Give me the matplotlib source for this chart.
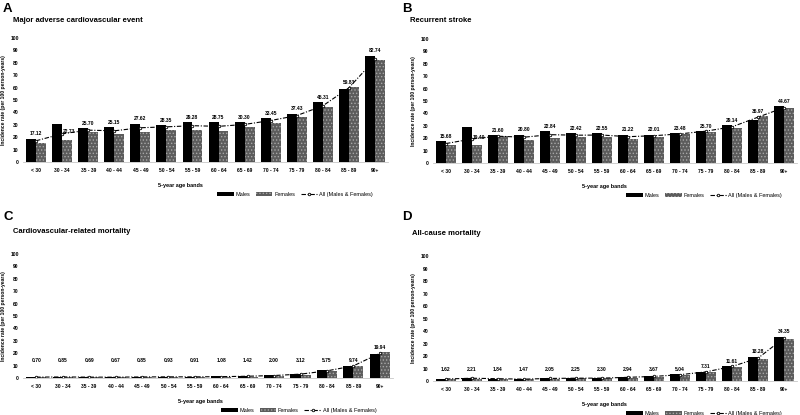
import matplotlib
matplotlib.use('Agg')
import matplotlib.pyplot as plt
from matplotlib.patches import Patch
from matplotlib.lines import Line2D
import numpy as np

plt.rcParams['font.family'] = ['Liberation Sans', 'DejaVu Sans']
plt.rcParams['hatch.linewidth'] = 0.6

ages = ['< 30', '30 - 34', '35 - 39', '40 - 44', '45 - 49', '50 - 54', '55 - 59',
        '60 - 64', '65 - 69', '70 - 74', '75 - 79', '80 - 84', '85 - 89', '90+']

# A: major adverse cardiovascular event
mace_all = [17.12, 22.73, 25.70, 25.15, 27.62, 28.35, 29.28, 28.75, 30.30, 33.45, 37.43, 45.31, 59.83, 82.74]
mace_male = [18.9, 31.0, 27.6, 28.0, 31.0, 30.0, 32.0, 32.0, 32.0, 35.4, 39.0, 48.6, 59.0, 85.7]
mace_female = [15.7, 17.8, 24.3, 22.4, 24.3, 26.0, 26.0, 25.0, 28.0, 31.6, 36.5, 44.0, 60.3, 82.4]

# B: recurrent stroke
stroke_all = [15.68, 19.40, 21.60, 20.80, 22.84, 22.42, 22.55, 21.22, 22.01, 23.48, 25.70, 29.14, 36.97, 44.67]
stroke_male = [17.7, 28.7, 22.3, 22.8, 26.0, 24.1, 24.1, 22.8, 22.8, 24.4, 26.0, 30.6, 35.0, 45.6]
stroke_female = [14.7, 14.7, 21.4, 18.8, 20.4, 21.0, 21.0, 19.6, 21.2, 23.0, 25.0, 28.2, 38.0, 44.5]

# C: cardiovascular-related mortality
cvd_all = [0.70, 0.85, 0.69, 0.67, 0.85, 0.93, 0.91, 1.08, 1.42, 2.00, 3.12, 5.75, 9.74, 19.94]
cvd_male = [0.8, 1.0, 0.8, 0.8, 1.0, 1.1, 1.1, 1.3, 1.7, 2.3, 3.6, 6.2, 9.8, 19.1]
cvd_female = [0.6, 0.7, 0.6, 0.5, 0.7, 0.8, 0.7, 0.9, 1.2, 1.7, 2.7, 5.4, 9.7, 20.7]

# D: all-cause mortality
death_all = [1.62, 2.21, 1.84, 1.47, 2.05, 2.25, 2.30, 2.94, 3.67, 5.04, 7.31, 11.61, 18.28, 34.35]
death_male = [1.8, 2.6, 2.0, 1.6, 2.2, 2.4, 2.4, 3.2, 4.0, 5.3, 7.6, 12.2, 19.5, 35.6]
death_female = [1.4, 1.9, 1.7, 1.3, 1.9, 2.1, 2.2, 2.7, 3.4, 4.8, 7.0, 11.0, 18.0, 34.0]

FEM_FACE = '#5c5c5c'
FEM_HATCH = '#a8a8a8'


def panel(fig, rect, letter, title, males, females, both, label_floor, letter_pos, title_pos, xlab_x=0.47):
    ax = fig.add_axes(rect)
    x = np.arange(len(ages))
    w = 0.38
    ax.bar(x - w / 2, males, w, color='black', linewidth=0)
    ax.bar(x + w / 2, females, w, color=FEM_FACE, hatch='.....',
           edgecolor=FEM_HATCH, linewidth=0)
    ax.plot(x, both, color='black', lw=0.8, dashes=(4, 1.5, 1, 1.5),
            marker='o', ms=1.8, mfc='white', mec='black', mew=0.6)

    for i, v in enumerate(both):
        if males[i] - v > 5:
            # label sits beside the tall male bar, on the line
            ax.text(x[i] + 0.03, v + 1.5, f'{v:.2f}', ha='left', va='center',
                    fontsize=3.6, fontweight='bold')
        else:
            top = max(males[i], females[i], v)
            ax.text(x[i], max(top + 1.8, label_floor), f'{v:.2f}', ha='center',
                    va='bottom', fontsize=3.6, fontweight='bold')

    ax.set_xlim(-0.5, 13.5)
    ax.set_ylim(0, 100)
    ax.set_yticks(range(0, 101, 10))
    ax.set_xticks(x)
    ax.set_xticklabels(ages)
    ax.tick_params(axis='both', length=0, labelsize=3.6, pad=3)
    ax.tick_params(axis='x', pad=4)
    for lab in ax.get_xticklabels() + ax.get_yticklabels():
        lab.set_fontweight('bold')
    for s in ['top', 'right', 'left']:
        ax.spines[s].set_visible(False)
    ax.spines['bottom'].set_color('#c8c8c8')
    ax.spines['bottom'].set_linewidth(0.6)

    ax.set_xlabel('5-year age bands', fontsize=4, fontweight='bold')
    ax.xaxis.set_label_coords(xlab_x, -0.17)
    ax.set_ylabel('Incidence rate (per 100 person-years)', fontsize=3.6,
                  fontweight='bold', labelpad=3)

    handles = [Patch(facecolor='black', linewidth=0),
               Patch(facecolor=FEM_FACE, hatch='.....', edgecolor=FEM_HATCH, linewidth=0),
               Line2D([], [], color='black', lw=0.8, dashes=(4, 1.5, 1, 1.5),
                      marker='o', ms=1.8, mfc='white', mec='black', mew=0.6)]
    ax.legend(handles, ['Males', 'Females', 'All (Males & Females)'], ncol=3,
              frameon=False, loc='center', bbox_to_anchor=(0.745, -0.26),
              fontsize=4, handlelength=3, handleheight=0.6, columnspacing=1.0,
              handletextpad=0.3)

    fig.text(letter_pos[0] / 800, 1 - letter_pos[1] / 415, letter, fontsize=9.5,
             fontweight='bold', va='center', ha='left')
    fig.text(title_pos[0] / 800, 1 - title_pos[1] / 415, title, fontsize=5.5,
             fontweight='bold', va='center', ha='left')
    return ax


fig = plt.figure(figsize=(8, 4.15), dpi=100)

panel(fig, [23 / 800, 1 - 162 / 415, 365 / 800, 124 / 415], 'A',
      'Major adverse cardiovascular event', mace_male, mace_female, mace_all, 0,
      (3, 9), (13, 21), xlab_x=0.43)
panel(fig, [433 / 800, 1 - 163 / 415, 364 / 800, 124 / 415], 'B',
      'Recurrent stroke', stroke_male, stroke_female, stroke_all, 0,
      (402, 9), (410, 21))
panel(fig, [23 / 800, 1 - 378 / 415, 370 / 800, 124 / 415], 'C',
      'Cardiovascular-related mortality', cvd_male, cvd_female, cvd_all, 12,
      (3, 217), (13, 231), xlab_x=0.48)
panel(fig, [433 / 800, 1 - 381 / 415, 364 / 800, 125 / 415], 'D',
      'All-cause mortality', death_male, death_female, death_all, 7,
      (402, 217), (412, 233))

fig.savefig('out.png', dpi=100)
